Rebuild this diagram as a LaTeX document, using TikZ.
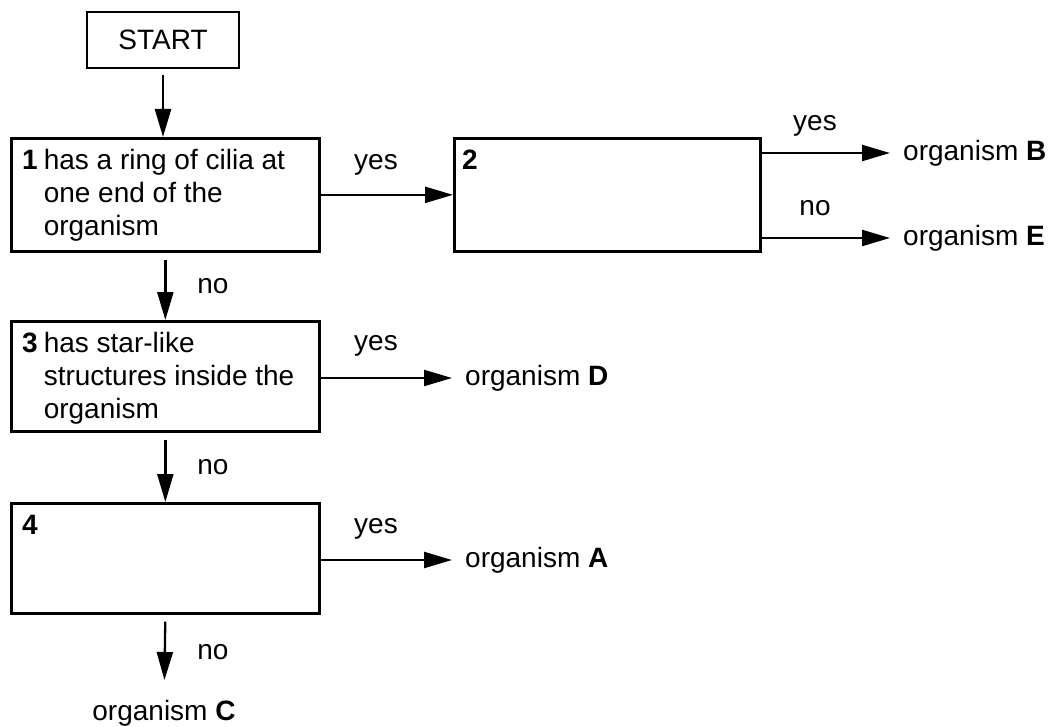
\documentclass[tikz,border=0pt]{standalone}
\usepackage{fontspec}
\setmainfont{Liberation Sans}
\usetikzlibrary{arrows.meta}
\tikzset{
    txt/.style={
        font=\fontsize{28}{33}\selectfont
    },
    keybox/.style={draw, line width=2.7pt, anchor=north west, minimum width=308pt, minimum height=113pt},
    flow/.style={-{Triangle[length=28pt, width=16pt]}, line width=2.3pt},
    outcome/.style={txt, anchor=west, inner xsep=13pt, inner ysep=0pt}
}

\begin{document}
\begin{tikzpicture}[x=1pt, y=-1pt, line cap=butt, line join=miter]
\useasboundingbox (0,0) rectangle (1054,727);

% boxes of the key
\node[draw, line width=2.7pt, minimum width=152pt, minimum height=56pt, txt] (start) at (163,40) {START};
\node[keybox] (q1) at (10,137) {};
\node[keybox, minimum width=306pt] (q2) at (453,137) {};
\node[keybox, minimum height=110pt] (q3) at (10,320) {};
\node[keybox, minimum height=110pt] (q4) at (10,502) {};

% texts inside the boxes
\node[txt, anchor=base west, inner sep=0pt] (q1text) at (22,170)
  {\begin{tabular}[t]{@{}l@{\hspace{6pt}}l@{}}\textbf{1} & has a ring of cilia at\\ & one end of the\\ & organism\end{tabular}};
\node[txt, anchor=base west, inner sep=0pt] (q2text) at (462,170) {\textbf{2}};
\node[txt, anchor=base west, inner sep=0pt] (q3text) at (22,352)
  {\begin{tabular}[t]{@{}l@{\hspace{6pt}}l@{}}\textbf{3} & has star-like\\ & structures inside the\\ & organism\end{tabular}};
\node[txt, anchor=base west, inner sep=0pt] (q4text) at (22,534) {\textbf{4}};

% yes / no labels
\node[txt, anchor=base] (yes1) at (376,170) {yes};
\node[txt, anchor=base] (yes2) at (815,131) {yes};
\node[txt, anchor=base] (no2) at (815,216) {no};
\node[txt, anchor=base] (yes3) at (376,350) {yes};
\node[txt, anchor=base] (yes4) at (376,533) {yes};
\node[txt, anchor=base] (no1) at (213,293) {no};
\node[txt, anchor=base] (no3) at (213,474) {no};
\node[txt, anchor=base] (no4) at (213,659) {no};

% organisms
\node[outcome] (orgB) at (890,153) {organism \textbf{B}};
\node[outcome] (orgE) at (890,238) {organism \textbf{E}};
\node[outcome] (orgD) at (452,378) {organism \textbf{D}};
\node[outcome] (orgA) at (452,560) {organism \textbf{A}};
\node[txt, anchor=north, inner xsep=0pt, inner ysep=20pt] (orgC) at (164,680) {organism \textbf{C}};

% arrows
\draw[flow, shorten <=6pt] (start.south) -- (start.south |- q1.north);
\draw[flow] (q1.east) -- (q1.east -| q2.west);
\draw[flow] (q2.east |- orgB) -- (orgB);
\draw[flow] (q2.east |- orgE) -- (orgE);
\draw[flow, shorten <=7pt] (q1.south) -- (q3.north);
\draw[flow] (q3.east |- orgD) -- (orgD);
\draw[flow, shorten <=7pt] (q3.south) -- (q4.north);
\draw[flow] (q4.east |- orgA) -- (orgA);
\draw[flow, shorten <=7pt] (q4.south) -- (orgC);

\end{tikzpicture}
\end{document}
